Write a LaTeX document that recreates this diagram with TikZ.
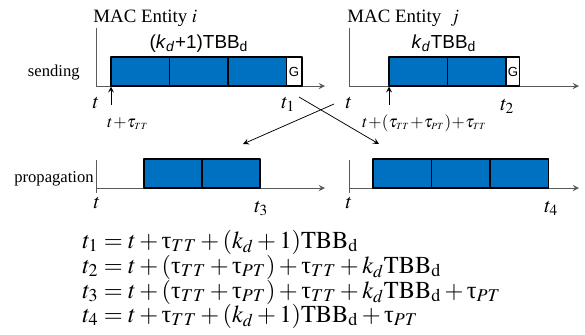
\documentclass[tikz,border=0pt]{standalone}
\usepackage{mathptmx}
\usepackage[no-math]{fontspec}
\setmainfont{Liberation Serif}
\setsansfont{Liberation Sans}
\usepackage{amsmath}
\definecolor{xanh}{RGB}{0,112,192}
\tikzset{
  truc/.style={black!65,line width=0.5pt},
  goi/.style={draw=black,fill=xanh,line width=0.8pt},
  bao/.style={draw=black,fill=white,line width=0.6pt},
  nhan/.style={inner sep=0pt,anchor=base},
  mocnho/.style={nhan,anchor=base west,font=\fontsize{11}{13}\selectfont},
  mocgan/.style={nhan,anchor=base west,font=\fontsize{9}{11}\selectfont},
  congthuc/.style={nhan,anchor=base west,font=\fontsize{12.9}{15}\selectfont},
}
\newcommand{\ttau}{\text{τ}}
\newcommand{\cgnho}{\mkern0.5mu{+}\mkern0.5mu}
\newcommand{\tss}[1]{\tau_{\scriptscriptstyle #1}}
\begin{document}
\begin{tikzpicture}[>=stealth,line join=round,x=0.53pt,y=-0.53pt]
    \useasboundingbox (0,0) rectangle (585,334);
    % sending
    \draw[truc] (96,28)--(96,86) (349,28)--(349,86);
    \draw[truc,->] (96,86)--(325,86);
    \draw[truc,->] (349,86)--(579,86);
    \foreach \x in {111,169.5,228} \draw[goi] (\x,57) rectangle ++(58.5,29);
    \foreach \x in {389,447.5} \draw[goi] (\x,57) rectangle ++(58.5,29);
    \draw[bao] (286.5,57) rectangle (302,86);
    \draw[bao] (506,57) rectangle (519.5,86);
    \node[font=\sffamily\scriptsize] (gI) at (294,71.5) {G};
    \node[font=\sffamily\scriptsize] (gJ) at (513,71.5) {G};
    \node[nhan,anchor=base west] (entI) at (93,22) {MAC Entity $i$};
    \node[nhan,anchor=base west] (entJ) at (347,22) {MAC Entity~ $j$};
    \node[nhan,font=\sffamily] (lenI) at (199,48) {(\textit{k}\textsubscript{\textit{d}}+1)TBB\textsubscript{d}};
    \node[nhan,font=\sffamily] (lenJ) at (444,48) {\textit{k}\textsubscript{\textit{d}}TBB\textsubscript{d}};
    \node[nhan,anchor=base east,font=\fontsize{8.8}{10}\selectfont] (send) at (80,76) {sending};
    % propagation
    \draw[truc] (96,160)--(96,193) (349,160)--(349,193);
    \draw[truc,->] (96,188)--(325,188);
    \draw[truc,->] (349,188)--(579,188);
    \foreach \x in {144,202} \draw[goi] (\x,159) rectangle ++(58,29);
    \foreach \x in {373,431.5,490} \draw[goi] (\x,159) rectangle ++(58.5,29);
    \node[nhan,anchor=base east,font=\fontsize{8.8}{10}\selectfont] (prop) at (94,182) {propagation};
    % time marks
    \foreach \ten/\x/\y/\chu in {tI/96/108/t,tJ/349/108/t,tK/97/208/t,tL/349/208/t}
        \node[nhan,font=\fontsize{11}{13}\selectfont] (\ten) at (\x,\y) {$\chu$};
    \foreach \ten/\x/\y/\chu in {tA/281/108/t_1,tB/500/110/t_2,tC/254/212/t_3,tD/544/212/t_4}
        \node[mocnho] (\ten) at (\x,\y) {$\chu$};
    \node[mocgan] (bdI) at (107,127) {$t\cgnho\tss{TT}$};
    \node[mocgan] (bdJ) at (362,127) {$t\cgnho(\tss{TT}\cgnho\tss{PT})\cgnho\tss{TT}$};
    \draw[->] (111,105)--(111,86.5);
    \draw[->] (389,105)--(389,86.5);
    % crossing
    \coordinate (P1) at (299,97);
    \coordinate (Q1) at (379,144);
    \coordinate (P2) at (334,104);
    \coordinate (Q2) at (243,144);
    \draw[->] (P1)--(Q1);
    \draw[->] (P2)--(Q2);
    % equations
    \node[congthuc] (eq1) at (82,248) {$t_1 = t + \ttau_{TT} + (k_d+1)\mathrm{TBB}_\mathrm{d}$};
    \node[congthuc] (eq2) at (82,273) {$t_2 = t + (\ttau_{TT}+\ttau_{PT}) + \ttau_{TT} + k_d\mathrm{TBB}_\mathrm{d}$};
    \node[congthuc] (eq3) at (82,298) {$t_3 = t + (\ttau_{TT}+\ttau_{PT}) + \ttau_{TT} + k_d\mathrm{TBB}_\mathrm{d} + \ttau_{PT}$};
    \node[congthuc] (eq4) at (82,322) {$t_4 = t + \ttau_{TT} + (k_d+1)\mathrm{TBB}_\mathrm{d} + \ttau_{PT}$};
\end{tikzpicture}
\end{document}
